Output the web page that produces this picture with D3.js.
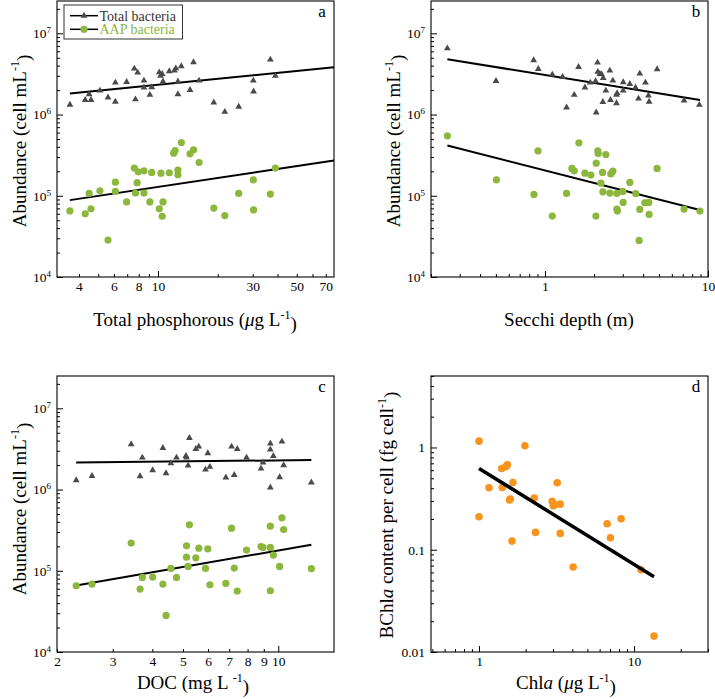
<!DOCTYPE html>
<html><head><meta charset="utf-8">
<script src="https://cdn.jsdelivr.net/npm/d3@7"></script>
<style>
body{margin:0;background:#fff}
text{font-family:"Liberation Serif","Times New Roman",serif;fill:#000}
</style>
</head><body>
<svg id="chart" width="715" height="699"></svg>
<script>
// ---------------- DATA ----------------
// Panel a: Total phosphorous (µg/L) vs abundance (cells/mL)
const tpTotal = [[3.6,1.32e6],[4.3,1.51e6],[4.5,1.78e6],[4.6,1.51e6],[5.1,1.97e6],[5.6,1.62e6],[6.1,2.47e6],[6.1,1.44e6],[6.95,2.52e6],[7.6,3.68e6],[7.7,1.54e6],[7.9,3.28e6],[8.5,2.62e6],[8.5,2.15e6],[9.1,1.75e6],[9.3,2.17e6],[10.15,3.31e6],[10.3,2.99e6],[10.5,3.16e6],[10.6,2.55e6],[11.4,3.41e6],[12.1,3.48e6],[12.3,3.71e6],[12.6,2.55e6],[12.6,1.78e6],[13.1,3.93e6],[14.5,2.01e6],[15.1,4.40e6],[16.1,2.62e6],[19.1,1.41e6],[21.7,1.08e6],[25.5,1.25e6],[30.2,2.62e6],[30.3,1.92e6],[36.8,4.75e6],[39.0,2.99e6]];
const tpAAP = [[3.6,6.5e4],[4.3,6.0e4],[4.5,1.07e5],[4.6,6.9e4],[5.1,1.15e5],[5.6,2.85e4],[6.1,1.47e5],[6.1,1.13e5],[6.95,8.4e4],[7.6,2.19e5],[7.7,1.08e5],[7.85,1.45e5],[7.95,1.97e5],[8.5,2.03e5],[8.5,1.08e5],[9.1,8.4e4],[9.3,1.94e5],[10.15,6.9e4],[10.35,1.9e5],[10.5,5.6e4],[10.6,8.4e4],[11.4,1.92e5],[12.0,3.35e5],[12.2,3.61e5],[12.6,2.07e5],[12.6,1.81e5],[13.1,4.53e5],[14.5,3.28e5],[15.1,3.68e5],[16.1,2.57e5],[19.1,7.05e4],[21.7,5.7e4],[25.5,1.07e5],[30.2,1.57e5],[30.3,6.7e4],[36.8,1.05e5],[39.0,2.19e5]];
const tpTotalFit = [[3.6,1.81e6],[77,3.82e6]];
const tpAAPFit = [[3.6,8.84e4],[77,2.72e5]];

// Panel b: Secchi depth (m)
const secchiTotal = [[0.252,6.54e6],[0.501,2.59e6],[0.852,4.66e6],[0.91,3.64e6],[1.109,3.10e6],[1.283,2.90e6],[1.357,1.22e6],[1.512,1.75e6],[1.608,3.85e6],[1.758,2.15e6],[1.895,2.47e6],[2.043,2.57e6],[2.062,1.06e6],[2.101,4.36e6],[2.11,3.35e6],[2.171,3.16e6],[2.223,3.13e6],[2.276,2.82e6],[2.265,1.43e6],[2.363,1.97e6],[2.5,3.47e6],[2.524,1.51e6],[2.609,2.62e6],[2.746,1.75e6],[2.746,1.38e6],[2.77,1.83e6],[3.018,2.50e6],[3.018,1.97e6],[3.314,2.38e6],[3.59,2.15e6],[3.746,1.57e6],[3.816,3.19e6],[4.134,2.47e6],[4.313,1.71e6],[4.353,1.44e6],[4.873,3.61e6],[7.13,1.49e6],[8.85,1.315e6]];
const secchiAAP = [[0.252,5.47e5],[0.504,1.57e5],[0.856,1.038e5],[0.906,3.57e5],[1.109,5.62e4],[1.357,1.068e5],[1.463,2.17e5],[1.512,2.03e5],[1.615,4.48e5],[1.758,1.90e5],[1.913,1.80e5],[2.062,2.52e5],[2.053,5.62e4],[2.11,3.57e5],[2.121,3.31e5],[2.202,1.43e5],[2.255,1.94e5],[2.265,1.12e5],[2.363,3.22e5],[2.5,1.079e5],[2.535,1.86e5],[2.609,2.01e5],[2.76,1.068e5],[2.76,6.86e4],[2.78,6.48e4],[3.004,1.13e5],[3.018,8.28e4],[3.314,1.46e5],[3.607,1.06e5],[3.78,2.82e4],[3.816,6.79e4],[4.095,8.2e4],[4.333,8.28e4],[4.353,5.89e4],[4.873,2.17e5],[7.13,6.86e4],[8.93,6.48e4]];
const secchiTotalFit = [[0.252,4.79e6],[8.93,1.51e6]];
const secchiAAPFit = [[0.252,4.16e5],[8.93,6.67e4]];

// Panel c: DOC (mg/L)
const docTotal = [[2.30,1.30e6],[2.58,1.47e6],[3.43,3.61e6],[3.66,1.46e6],[3.72,2.47e6],[4.01,1.73e6],[4.32,3.25e6],[4.42,1.59e6],[4.58,2.11e6],[4.77,2.47e6],[5.11,2.59e6],[5.13,2.47e6],[5.19,1.97e6],[5.24,4.32e6],[5.49,3.16e6],[5.61,3.38e6],[5.89,1.76e6],[5.99,2.80e6],[6.08,1.90e6],[6.83,1.41e6],[7.12,3.38e6],[7.26,1.51e6],[7.42,3.16e6],[7.94,2.47e6],[8.82,1.81e6],[8.95,2.15e6],[9.44,3.68e6],[9.44,3.10e6],[9.44,1.06e6],[9.65,2.59e6],[10.10,1.42e6],[10.27,3.89e6],[10.40,1.99e6],[12.72,1.22e6]];
const docAAP = [[2.30,6.54e4],[2.58,6.86e4],[3.43,2.19e5],[3.66,5.95e4],[3.72,8.28e4],[4.01,8.36e4],[4.32,6.86e4],[4.42,2.82e4],[4.58,1.068e5],[4.77,8.28e4],[5.13,2.03e5],[5.13,1.47e5],[5.19,1.13e5],[5.24,3.68e5],[5.49,1.445e5],[5.61,1.90e5],[5.89,1.068e5],[5.99,1.86e5],[6.08,6.73e4],[6.83,6.98e4],[7.12,3.35e5],[7.26,1.08e5],[7.42,5.62e4],[7.94,1.80e5],[8.82,1.99e5],[8.95,1.94e5],[9.44,1.94e5],[9.44,3.54e5],[9.44,5.68e4],[9.65,1.56e5],[10.10,1.13e5],[10.27,4.48e5],[10.40,3.22e5],[12.72,1.06e5]];
const docTotalFit = [[2.30,2.15e6],[12.72,2.31e6]];
const docAAPFit = [[2.30,6.6e4],[12.72,2.09e5]];

// Panel d: Chla (µg/L) vs BChla per cell (fg/cell)
const chlaBchl = [[1.0,1.153],[1.0,0.210],[1.16,0.404],[1.40,0.623],[1.413,0.407],[1.485,0.647],[1.522,0.677],[1.575,0.306],[1.591,0.313],[1.631,0.1215],[1.655,0.455],[1.978,1.038],[2.271,0.320],[2.316,0.1477],[2.966,0.297],[3.01,0.269],[3.085,0.275],[3.194,0.452],[3.34,0.279],[3.34,0.1444],[4.049,0.0677],[6.70,0.1795],[7.04,0.131],[8.25,0.201],[11.10,0.0638],[13.45,0.0143]];
const chlaFit = [[1.0,0.623],[13.45,0.0545]];

// Tick labels
const tpTickLabels = [4,6,8,10,30,50,70];
const secchiTickLabels = [1,10];
const docTickLabels = [2,3,4,5,6,7,8,9,10];
const chlaTickLabels = [1,10];
const abundanceTickLabels = [1e4,1e5,1e6,1e7];
const bchlTickLabels = [0.01,0.1,1];
const legendLabels = ["Total bacteria","AAP bacteria"];

// ---------------- STYLE / LAYOUT ----------------
const GREEN = "#8cb63c", GRAY = "#4a4a4a", ORANGE = "#f7941d";
const svg = d3.select("#chart");
const TICKFONT = 13.5, TITLEFONT = 19;

function genTicks(dom){
  const lo = Math.min(...dom), hi = Math.max(...dom), out = [];
  for (let e = Math.floor(Math.log10(lo)); e <= Math.ceil(Math.log10(hi)); e++)
    for (let k = 1; k <= 9; k++){
      const v = +(k * Math.pow(10, e)).toPrecision(6);
      if (v >= lo*0.999 && v <= hi*1.001) out.push(v);
    }
  return out;
}
const isDecade = v => Math.abs(Math.log10(v) - Math.round(Math.log10(v))) < 1e-6;
const inList = (list, v) => list.some(l => Math.abs(l - v) / v < 1e-6);

function makePanel(cfg){
  const x = d3.scaleLog().domain(cfg.xDom).range(cfg.xr);
  const y = d3.scaleLog().domain(cfg.yDom).range(cfg.yr);
  const g = svg.append("g");
  // x axis
  const gx = g.append("g").attr("transform", `translate(0,${cfg.yr[0]})`)
    .call(d3.axisBottom(x).tickValues(genTicks(cfg.xDom)).tickSize(-3).tickPadding(4)
      .tickFormat(v => inList(cfg.xLabels, v) ? d3.format("~g")(v) : ""));
  gx.select(".domain").remove();
  gx.selectAll(".tick line").attr("y2", d => isDecade(d) ? -6 : -3).attr("stroke","#000");
  gx.selectAll(".tick text").attr("font-size", TICKFONT).attr("font-family","Liberation Serif").attr("fill","#000");
  // y axis
  const gy = g.append("g").attr("transform", `translate(${cfg.xr[0]},0)`)
    .call(d3.axisLeft(y).tickValues(genTicks(cfg.yDom)).tickSize(-3).tickPadding(6)
      .tickFormat(v => inList(cfg.yLabels, v) ? "L" : ""));
  gy.select(".domain").remove();
  gy.selectAll(".tick line").attr("x2", d => isDecade(d) ? 6 : 3).attr("stroke","#000");
  gy.selectAll(".tick text").attr("font-size", TICKFONT).attr("font-family","Liberation Serif").attr("fill","#000")
    .each(function(d){
      const t = d3.select(this);
      if (!inList(cfg.yLabels, d)) { t.text(""); return; }
      if (cfg.yPow) {
        t.text("10");
        t.append("tspan").attr("dy","-0.55em").attr("font-size", 9).text(Math.round(Math.log10(d)));
      } else {
        t.text(d3.format("~g")(d));
      }
    });
  // frame
  g.append("rect").attr("x", cfg.xr[0]).attr("y", cfg.yr[1])
    .attr("width", cfg.xr[1]-cfg.xr[0]).attr("height", cfg.yr[0]-cfg.yr[1])
    .attr("fill","none").attr("stroke","#000").attr("stroke-width",1.1);
  // panel letter
  g.append("text").attr("x", cfg.xr[1]-12).attr("y", cfg.yr[1]+16)
    .attr("text-anchor","middle").attr("font-size",17).text(cfg.letter);
  return {g, x, y};
}

function drawTri(p, data){
  p.g.append("g").selectAll("path").data(data).join("path")
    .attr("transform", d => `translate(${p.x(d[0])},${p.y(d[1])})`)
    .attr("d", d3.symbol(d3.symbolTriangle, 20)).attr("fill", GRAY);
}
function drawDots(p, data, color, r){
  p.g.append("g").selectAll("circle").data(data).join("circle")
    .attr("cx", d => p.x(d[0])).attr("cy", d => p.y(d[1])).attr("r", r).attr("fill", color);
}
function drawFit(p, data, w){
  p.g.append("path").datum(data)
    .attr("d", d3.line().x(d => p.x(d[0])).y(d => p.y(d[1])))
    .attr("stroke","#000").attr("stroke-width", w).attr("fill","none");
}
function yTitle(x, y, parts){
  const t = svg.append("text").attr("transform", `translate(${x},${y}) rotate(-90)`)
    .attr("text-anchor","middle").attr("font-size", TITLEFONT);
  addParts(t, parts);
}
function xTitle(x, y, parts){
  const t = svg.append("text").attr("x", x).attr("y", y)
    .attr("text-anchor","middle").attr("font-size", TITLEFONT);
  addParts(t, parts);
}
function addParts(t, parts){
  let raised = false;
  parts.forEach(p => {
    const s = t.append("tspan").text(p.t);
    if (p.i) s.attr("font-style","italic");
    if (p.sup) { s.attr("font-size", 12).attr("dy","-0.6em"); raised = true; }
    else if (raised) { s.attr("dy","0.6em"); raised = false; }
  });
}

const abundance = [{t:"Abundance (cell mL"},{t:"-1",sup:1},{t:")"}];

// Panel a
const pa = makePanel({xDom:[3.1,77], yDom:[1e4,2.5e7], xr:[57,334], yr:[277,1], xLabels:tpTickLabels, yLabels:abundanceTickLabels, yPow:true, letter:"a"});
drawFit(pa, tpTotalFit, 2); drawFit(pa, tpAAPFit, 2);
drawTri(pa, tpTotal); drawDots(pa, tpAAP, GREEN, 3.6);
// Panel b
const pb = makePanel({xDom:[0.2,10], yDom:[1e4,2.5e7], xr:[431,708], yr:[277,1], xLabels:secchiTickLabels, yLabels:abundanceTickLabels, yPow:true, letter:"b"});
drawFit(pb, secchiTotalFit, 2); drawFit(pb, secchiAAPFit, 2);
drawTri(pb, secchiTotal); drawDots(pb, secchiAAP, GREEN, 3.6);
// Panel c
const pc = makePanel({xDom:[2,15], yDom:[1e4,2.5e7], xr:[57,334], yr:[652,376], xLabels:docTickLabels, yLabels:abundanceTickLabels, yPow:true, letter:"c"});
drawFit(pc, docTotalFit, 2); drawFit(pc, docAAPFit, 2);
drawTri(pc, docTotal); drawDots(pc, docAAP, GREEN, 3.6);
// Panel d
const pd = makePanel({xDom:[0.49,30], yDom:[0.01,5], xr:[431,708], yr:[652,376], xLabels:chlaTickLabels, yLabels:bchlTickLabels, yPow:false, letter:"d"});
drawDots(pd, chlaBchl, ORANGE, 3.8);
drawFit(pd, chlaFit, 3.5);

// Titles
yTitle(26, 141, abundance);
yTitle(400, 141, abundance);
yTitle(26, 509, abundance);
yTitle(393, 515, [{t:"BChl"},{t:"a",i:1},{t:" content per cell (fg cell"},{t:"-1",sup:1},{t:")"}]);
xTitle(195, 326, [{t:"Total phosphorous ("},{t:"μ",i:1},{t:"g L"},{t:"-1",sup:1},{t:")"}]);
xTitle(569, 326, [{t:"Secchi depth (m)"}]);
xTitle(193, 689, [{t:"DOC (mg L "},{t:"-1",sup:1},{t:")"}]);
xTitle(566, 689, [{t:"Chl"},{t:"a",i:1},{t:" ("},{t:"μ",i:1},{t:"g L"},{t:"-1",sup:1},{t:")"}]);

// Legend (panel a)
const lg = svg.append("g");
lg.append("rect").attr("x",64).attr("y",5).attr("width",118.5).attr("height",34)
  .attr("fill","#fff").attr("stroke","#333").attr("stroke-width",1);
const legY = [15.7, 29.3];
lg.append("line").attr("x1",70).attr("x2",98).attr("y1",legY[0]).attr("y2",legY[0]).attr("stroke","#000").attr("stroke-width",1.5);
lg.append("path").attr("transform",`translate(84,${legY[0]})`).attr("d", d3.symbol(d3.symbolTriangle,20)).attr("fill",GRAY);
lg.append("line").attr("x1",70).attr("x2",98).attr("y1",legY[1]).attr("y2",legY[1]).attr("stroke","#000").attr("stroke-width",1.5);
lg.append("circle").attr("cx",84).attr("cy",legY[1]).attr("r",3.6).attr("fill",GREEN);
lg.append("text").attr("x",99.5).attr("y",legY[0]+4.8).attr("font-size",14).style("fill","#333").text(legendLabels[0]);
lg.append("text").attr("x",99.5).attr("y",legY[1]+4.8).attr("font-size",14).style("fill",GREEN).text(legendLabels[1]);
</script>
</body></html>
